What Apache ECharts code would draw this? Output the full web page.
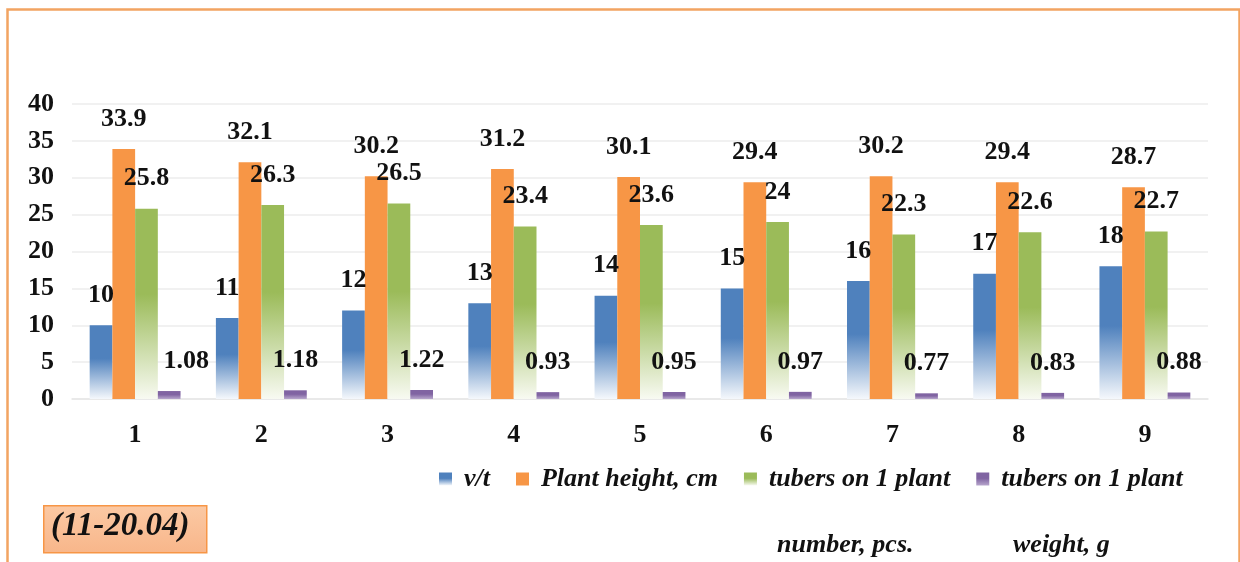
<!DOCTYPE html>
<html>
<head>
<meta charset="utf-8">
<script src="https://cdn.jsdelivr.net/npm/echarts@6/dist/echarts.min.js"></script>
<style>
html,body{margin:0;padding:0;background:#fff;}
#c{width:1240px;height:562px;}
</style>
</head>
<body>
<div id="c"></div>
<script>
const categories = ['1','2','3','4','5','6','7','8','9'];
const vt = [10, 11, 12, 13, 14, 15, 16, 17, 18];
const plantHeight = [33.9, 32.1, 30.2, 31.2, 30.1, 29.4, 30.2, 29.4, 28.7];
const tubersNumber = [25.8, 26.3, 26.5, 23.4, 23.6, 24, 22.3, 22.6, 22.7];
const tubersWeight = [1.08, 1.18, 1.22, 0.93, 0.95, 0.97, 0.77, 0.83, 0.88];
const yTicks = [0, 5, 10, 15, 20, 25, 30, 35, 40];
const seriesNames = ['v/t', 'Plant height, cm', 'tubers on 1 plant (number)', 'tubers on 1 plant (weight)'];
const legendLabels = ['v/t', 'Plant height, cm', 'tubers on 1 plant', 'tubers on 1 plant'];
const subLabels = ['number, pcs.', 'weight, g'];
const dateLabel = '(11-20.04)';

const FONT = '"Liberation Serif", "Times New Roman", serif';

function fade(top, bottom) {
  return new echarts.graphic.LinearGradient(0, 0, 0, 1, [
    {offset: 0, color: top},
    {offset: 0.45, color: top},
    {offset: 1, color: bottom}
  ]);
}

const labelStyle = {
  show: true,
  position: 'top',
  distance: 17,
  fontFamily: FONT,
  fontWeight: 'bold',
  fontSize: 26,
  color: '#111'
};

const colors = [
  fade('#4f81bd', '#f5f8fc'),
  '#f79646',
  fade('#9bbb59', '#f8faf2'),
  fade('#8064a2', '#b7a6cc')
];

const seriesData = [vt, plantHeight, tubersNumber, tubersWeight];

const series = seriesData.map((arr, si) => ({
  name: seriesNames[si],
  type: 'bar',
  barGap: '0%',
  barCategoryGap: '28%',
  itemStyle: {color: colors[si]},
  label: labelStyle,
  data: arr.map((v, i) => {
    if (si === 3 && i === 0) {
      return {value: v, label: {offset: [17, 0]}};
    }
    return v;
  })
}));

const chart = echarts.init(document.getElementById('c'));
chart.setOption({
  backgroundColor: '#ffffff',
  animation: false,
  grid: {left: 72, right: 32, top: 104, bottom: 163},
  xAxis: {
    type: 'category',
    data: categories,
    axisLine: {show: true, lineStyle: {color: '#e6e6e6', width: 1.5}},
    axisTick: {show: false},
    axisLabel: {
      fontFamily: FONT, fontWeight: 'bold', fontSize: 26, color: '#111', margin: 23
    }
  },
  yAxis: {
    type: 'value',
    min: yTicks[0],
    max: yTicks[yTicks.length - 1],
    interval: yTicks[1] - yTicks[0],
    axisLine: {show: false},
    axisTick: {show: false},
    splitLine: {lineStyle: {color: '#ececec', width: 1.5}},
    axisLabel: {
      fontFamily: FONT, fontWeight: 'bold', fontSize: 26, color: '#111', margin: 18
    }
  },
  legend: {
    left: 434,
    top: 461,
    itemWidth: 13,
    itemHeight: 13,
    itemGap: 26,
    icon: 'rect',
    data: seriesNames,
    formatter: name => legendLabels[seriesNames.indexOf(name)],
    textStyle: {
      fontFamily: FONT, fontWeight: 'bold', fontStyle: 'italic', fontSize: 26, color: '#111',
      padding: [0, 0, 0, 7]
    }
  },
  graphic: [
    {
      type: 'rect',
      left: 5, top: 7,
      shape: {width: 1232, height: 600},
      style: {fill: 'none', stroke: '#f2a462', lineWidth: 2.5},
      silent: true
    },
    {
      type: 'rect',
      left: 43, top: 505,
      shape: {width: 163, height: 47},
      style: {
        fill: new echarts.graphic.LinearGradient(0, 0, 0, 1, [
          {offset: 0, color: '#fbc9a4'},
          {offset: 1, color: '#f8b68a'}
        ]),
        stroke: '#f79646', lineWidth: 1.5
      },
      silent: true
    },
    {
      type: 'text',
      left: 51, top: 510,
      style: {
        text: dateLabel,
        fontFamily: FONT, fontWeight: 'bold', fontStyle: 'italic', fontSize: 33, fill: '#111'
      }
    },
    {
      type: 'text',
      left: 777, top: 532,
      style: {
        text: subLabels[0],
        fontFamily: FONT, fontWeight: 'bold', fontStyle: 'italic', fontSize: 26, fill: '#111'
      }
    },
    {
      type: 'text',
      left: 1013, top: 532,
      style: {
        text: subLabels[1],
        fontFamily: FONT, fontWeight: 'bold', fontStyle: 'italic', fontSize: 26, fill: '#111'
      }
    }
  ],
  series: series
});
</script>
</body>
</html>
